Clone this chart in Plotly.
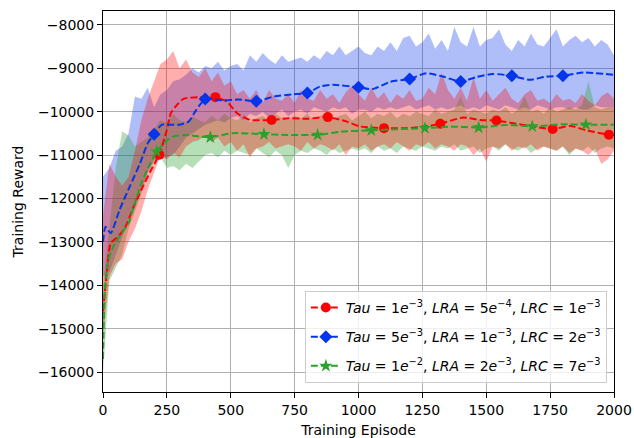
import plotly.graph_objects as go

# ---------------- data ----------------
raw_episodes = list(range(0, 2001, 25))

blue_raw_upper = [
    -11500, -11300, -10900, -10800, -10500, -9650, -9700, -9450, -9900, -9600,
    -9500, -9300, -9250, -9150, -9000, -9100, -8950, -9000, -8850, -9050,
    -8950, -8900, -9050, -8700, -8850, -8650, -8800, -8900, -8700, -8850,
    -8800, -8750, -8850, -8700, -8800, -8600, -8700, -8500, -8700, -8600,
    -8500, -8650, -8700, -8500, -8600, -8400, -8600, -8300, -8250, -8500,
    -8400, -8200, -8550, -8350, -8600, -8050, -8400, -8500, -8050, -8500,
    -8350, -8300, -8100, -8450, -8600, -8350, -8500, -8200, -8450, -8500,
    -8300, -8100, -8500, -8350, -8250, -8400, -8300, -8500, -8350, -8450,
    -8700,
]
blue_raw_lower = [
    -13800, -13700, -13300, -12900, -12500, -12200, -11800, -11400, -11100, -11100,
    -11050, -11000, -10800, -10600, -10500, -10400, -10300, -10250, -10200, -10250,
    -10150, -10100, -10200, -10050, -10100, -10000, -10150, -10050, -9950, -10100,
    -10000, -9950, -10050, -9900, -9950, -10000, -9900, -9950, -9900, -10050,
    -9950, -9950, -10000, -9900, -9950, -9900, -9950, -9900, -9850, -9950,
    -9900, -9850, -9950, -9900, -9950, -9900, -9850, -9950, -9900, -9950,
    -9850, -9900, -9950, -9850, -9900, -9950, -9900, -9950, -9850, -9900,
    -9950, -9900, -9900, -9950, -9900, -9950, -9950, -9850, -9900, -9900,
    -9900,
]
red_raw_upper = [
    -12400, -11200, -11500, -11700, -11500, -10900, -10200, -9700, -9300, -8900,
    -8800, -8600, -9000, -8800, -9100, -9200, -9000, -9300, -9100, -9400,
    -9300, -9600, -9500, -9700, -9500, -9800, -9500, -9700, -9750, -9600,
    -9800, -9500, -9700, -9750, -9500, -9700, -9600, -9800, -9550, -9400,
    -9600, -9750, -9450, -9700, -9550, -9800, -9600, -9700, -9500, -9750,
    -9700, -9450, -9600, -9100, -9500, -9700, -9450, -9750, -9200, -9700,
    -9500, -9750, -9600, -9450, -9700, -9800, -9600, -9500, -9750, -9700,
    -9800, -9600, -9750, -9700, -9800, -9600, -9750, -9850, -9650, -9550,
    -9700,
]
red_raw_lower = [
    -15200, -13800, -13500, -13400, -13000, -12700, -12300, -11800, -11400, -11000,
    -11100, -10950, -11050, -10800, -10700, -10650, -10550, -10700, -10600, -10800,
    -10700, -10900, -10750, -11050, -10850, -10800, -10700, -10850, -10800, -10750,
    -10800, -10900, -10700, -10850, -10750, -10800, -10900, -10750, -11000, -10800,
    -10850, -10750, -10900, -10800, -10750, -10850, -10700, -10800, -10900, -10750,
    -10800, -10700, -10850, -10750, -10800, -10900, -10750, -10800, -11000, -10850,
    -11150, -10800, -10850, -10750, -10900, -10800, -10850, -10750, -10900, -10800,
    -10850, -10900, -10800, -10950, -10850, -10900, -11000, -10850, -11200, -11100,
    -10900,
]
green_raw_upper = [
    -14000, -12700, -11300, -10450, -10550, -10800, -10700, -10600, -10400, -10200,
    -10250, -10050, -10200, -10250, -10100, -10200, -10250, -10100, -10200, -10050,
    -10150, -10200, -10100, -10250, -10150, -10100, -10200, -10050, -10150, -10200,
    -10100, -10150, -10050, -10200, -10100, -10000, -10150, -10100, -10050, -10200,
    -10100, -10000, -10150, -10050, -10100, -10000, -10150, -10050, -10100, -10000,
    -10050, -10100, -9950, -10050, -10000, -9950, -9650, -10050, -9950, -10000,
    -10050, -9950, -10000, -9900, -10050, -9950, -9650, -10000, -9950, -10050,
    -9900, -10000, -9950, -9900, -9950, -9850, -9300, -9900, -9950, -9900,
    -9900,
]
green_raw_lower = [
    -16000, -13900, -13600, -13300, -12700, -12300, -11900, -11400, -11150, -11050,
    -11300, -11250, -11350, -11200, -11300, -11150, -11000, -10950, -11050, -10900,
    -11000, -10900, -10950, -11000, -10850, -10950, -11050, -10900, -11000, -11300,
    -11000, -10900, -10950, -10850, -10900, -11000, -10850, -10950, -10900, -10850,
    -10900, -10850, -10950, -10800, -10900, -10850, -10950, -10800, -10850, -10900,
    -10800, -10850, -10900, -10800, -10850, -10750, -10900, -10850, -10800, -10950,
    -10850, -10800, -10900, -10750, -10850, -10900, -10800, -10950, -10850, -10800,
    -10850, -10900, -10800, -11000, -10850, -10900, -10800, -10950, -10850, -10800,
    -10850,
]

red_smooth_x = [0, 15, 30, 55, 85, 120, 150, 185, 220, 250, 265, 290, 315, 380, 440,
                485, 525, 575, 660, 730, 800, 880, 955, 1005, 1100, 1190, 1280, 1320,
                1410, 1475, 1540, 1645, 1760, 1830, 1895, 1980, 2000]
red_smooth_y = [-14600, -13700, -13030, -12900, -12690, -12190, -11800, -11380, -10990,
                -10420, -10040, -9840, -9705, -9665, -9665, -9770, -10035, -10190, -10190,
                -10150, -10165, -10125, -10230, -10340, -10380, -10380, -10325, -10280,
                -10135, -10190, -10205, -10305, -10400, -10330, -10435, -10530, -10540]

blue_smooth_x = [0, 10, 30, 65, 105, 145, 175, 200, 230, 260, 300, 335, 365, 400, 470,
                 530, 600, 670, 740, 800, 850, 900, 1000, 1055, 1125, 1200, 1265, 1330,
                 1400, 1460, 1525, 1600, 1670, 1735, 1800, 1880, 2000]
blue_smooth_y = [-13000, -12650, -12800, -12260, -11720, -11190, -10730, -10520, -10300,
                 -10300, -10300, -10230, -9960, -9710, -9740, -9720, -9760, -9650, -9600,
                 -9570, -9420, -9380, -9440, -9480, -9310, -9245, -9115, -9190, -9305,
                 -9205, -9130, -9175, -9265, -9190, -9175, -9100, -9150]

green_smooth_x = [0, 8, 21, 40, 73, 100, 120, 150, 185, 210, 245, 275, 325, 380, 420,
                  510, 630, 720, 840, 930, 1050, 1150, 1260, 1370, 1470, 1580, 1680,
                  1800, 1890, 2000]
green_smooth_y = [-15700, -14030, -13415, -13110, -12800, -12570, -12190, -11650, -11190,
                  -10920, -10690, -10575, -10535, -10575, -10590, -10495, -10520, -10535,
                  -10535, -10460, -10430, -10405, -10380, -10345, -10365, -10305, -10340,
                  -10290, -10300, -10300]

red_marker_x = list(range(220, 2000, 220))
blue_marker_x = list(range(200, 1801, 200))
green_marker_x = list(range(210, 1891, 210))

x_ticks = list(range(0, 2001, 250))
y_ticks = list(range(-16000, -7999, 1000))
y_tick_text = [("\u2212" + str(-v)) for v in y_ticks]

labels = [
    "<i>Tau</i> = 1<i>e</i><sup>\u22123</sup>, <i>LRA</i> = 5<i>e</i><sup>\u22124</sup>, <i>LRC</i> = 1<i>e</i><sup>\u22123</sup>",
    "<i>Tau</i> = 5<i>e</i><sup>\u22123</sup>, <i>LRA</i> = 1<i>e</i><sup>\u22123</sup>, <i>LRC</i> = 2<i>e</i><sup>\u22123</sup>",
    "<i>Tau</i> = 1<i>e</i><sup>\u22122</sup>, <i>LRA</i> = 2<i>e</i><sup>\u22123</sup>, <i>LRC</i> = 7<i>e</i><sup>\u22123</sup>",
]

# ---------------- styles ----------------
RED = "#ff0000"
BLUE = "#0535eb"
GREEN = "#2ca02c"
DASH = "7px,3px"
FS = 14

fig = go.Figure()

def band(upper, lower, fill):
    fig.add_trace(go.Scatter(
        x=raw_episodes + raw_episodes[::-1],
        y=upper + lower[::-1],
        fill="toself", fillcolor=fill, mode="lines",
        line=dict(width=0), hoverinfo="skip", showlegend=False))

band(blue_raw_upper, blue_raw_lower, "rgba(5,53,235,0.32)")
band(green_raw_upper, green_raw_lower, "rgba(44,160,44,0.34)")
band(red_raw_upper, red_raw_lower, "rgba(255,0,0,0.32)")

series = [
    (red_smooth_x, red_smooth_y, red_marker_x, RED, "circle", 10, labels[0]),
    (blue_smooth_x, blue_smooth_y, blue_marker_x, BLUE, "diamond", 10, labels[1]),
    (green_smooth_x, green_smooth_y, green_marker_x, GREEN, "star", 10, labels[2]),
]

for i, (sx, sy, mx, col, sym, ms, lab) in enumerate(series):
    lookup = dict(zip(sx, sy))
    fig.add_trace(go.Scatter(
        x=sx, y=sy, mode="lines",
        line=dict(color=col, width=2, dash=DASH, shape="spline", smoothing=0.6),
        showlegend=False, hoverinfo="skip"))
    fig.add_trace(go.Scatter(
        x=mx, y=[lookup[v] for v in mx], mode="markers",
        marker=dict(color=col, symbol=sym, size=ms, line=dict(width=0)),
        showlegend=False, hoverinfo="skip"))
    fig.add_trace(go.Scatter(
        x=[None], y=[None], mode="lines+markers", name=lab,
        legendgroup="g%d" % i,
        line=dict(color=col, width=2, dash=DASH),
        marker=dict(color=col, symbol=sym, size=ms, line=dict(width=0))))

axis_common = dict(
    showline=True, linecolor="black", linewidth=1, mirror=True,
    ticks="outside", ticklen=5, tickwidth=1, tickcolor="black",
    showgrid=True, gridcolor="#b0b0b0", gridwidth=1, zeroline=False,
    automargin=False,
    tickfont=dict(family="DejaVu Sans", size=FS, color="black"),
)

fig.update_layout(
    width=634, height=438,
    margin=dict(l=103, r=20, t=11, b=46),
    paper_bgcolor="white", plot_bgcolor="white",
    font=dict(family="DejaVu Sans", size=FS, color="black"),
    showlegend=True,
    legend=dict(
        x=0.986, y=0.024, xanchor="right", yanchor="bottom",
        bgcolor="rgba(255,255,255,0.8)", bordercolor="#cccccc", borderwidth=1,
        font=dict(family="DejaVu Sans", size=FS, color="black"),
        tracegroupgap=8, traceorder="grouped",
    ),
    xaxis=dict(range=[0, 2000], tickvals=x_ticks,
               title=dict(text="Training Episode", standoff=9,
                          font=dict(family="DejaVu Sans", size=FS, color="black")),
               **axis_common),
    yaxis=dict(range=[-16460, -7680], tickvals=y_ticks, ticktext=y_tick_text,
               title=dict(text="Training Reward", standoff=11,
                          font=dict(family="DejaVu Sans", size=FS, color="black")),
               **axis_common),
)

fig.write_html("out.html", config={"displayModeBar": False})
